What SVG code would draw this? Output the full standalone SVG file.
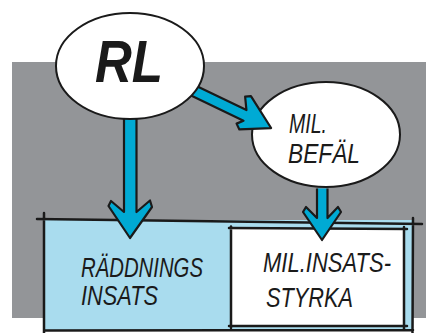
<svg xmlns="http://www.w3.org/2000/svg" width="426" height="333" viewBox="0 0 426 333">
<style>
.ln{stroke:#1a1a1a;stroke-width:2.5;fill:none;stroke-linecap:round}
.ell{fill:#fff;stroke:#1a1a1a;stroke-width:2}
.arr{fill:#00aad4;stroke:#1a1a1a;stroke-width:2.2;stroke-linejoin:round}
.t{font-family:"Liberation Sans",Arial,sans-serif;font-style:italic;fill:#1a1a1a;font-size:27px}
.rl{font-family:"Liberation Sans",Arial,sans-serif;font-style:italic;font-weight:bold;fill:#1a1a1a;font-size:60px}
</style>
<rect id="background" x="12" y="62" width="414" height="256" fill="#939598"/>
<g id="raddningsinsats">
<rect x="44" y="220" width="369" height="110" fill="#a9dcee"/>
<path class="ln" d="M37 219 L422 224 M44 213 L44 333 M413 218 L412.5 333 M44 330.5 L413 330"/>
<text class="t" x="81" y="277" textLength="122" lengthAdjust="spacingAndGlyphs">RÄDDNINGS</text>
<text class="t" x="81" y="305" textLength="77" lengthAdjust="spacingAndGlyphs">INSATS</text>
</g>
<g id="milinsatsstyrka">
<rect x="231" y="228.5" width="173" height="97.5" fill="#fff"/>
<path class="ln" d="M229 228 L407 229 M231 226.5 L231 328 M229 326 L407 326 M404 227 L404 329"/>
<text class="t" x="263" y="272" textLength="128" lengthAdjust="spacingAndGlyphs">MIL.INSATS-</text>
<text class="t" x="266" y="307" textLength="87" lengthAdjust="spacingAndGlyphs">STYRKA</text>
</g>
<g id="milbefal">
<ellipse class="ell" cx="326" cy="134.5" rx="74" ry="52.5"/>
<text class="t" x="289" y="133" textLength="38" lengthAdjust="spacingAndGlyphs">MIL.</text>
<text class="t" x="288" y="163" textLength="72" lengthAdjust="spacingAndGlyphs">BEFÄL</text>
</g>
<g id="connectors">
<path class="arr" d="M124 100 L124 212 L111 201 L108.5 206 L130 238 L152 207 L150 200.5 L136.5 212 L136.5 100"/>
<path class="arr" d="M317 188.5 L317 218 L306 207 L303 212 L322 240 L341 212 L338 207 L327.5 218 L327.5 188.5"/>
<path class="arr" transform="translate(190,89) rotate(25.7)" d="M-25 5.5 L62 5.5 L57 11 L62 15 L90 0 L58 -20 L53 -17 L60 -5.5 L-25 -5.5 Z"/>
</g>
<g id="rl">
<ellipse class="ell" cx="130" cy="66" rx="74" ry="53"/>
<text class="rl" x="95" y="82" textLength="68" lengthAdjust="spacingAndGlyphs">RL</text>
</g>
</svg>
